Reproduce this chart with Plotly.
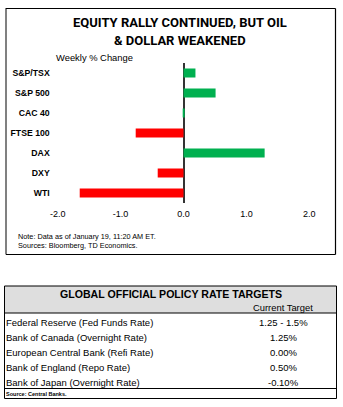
import plotly.graph_objects as go

W, H = 343, 407

categories = ["S&P/TSX", "S&P 500", "CAC 40", "FTSE 100", "DAX", "DXY", "WTI"]
weekly_change = [0.19, 0.51, 0.01, -0.76, 1.29, -0.41, -1.65]
x_tick_vals = [-2, -1, 0, 1, 2]
x_tick_text = ["-2.0", "-1.0", "0.0", "1.0", "2.0"]

table_banks = [
    "Federal Reserve (Fed Funds Rate)",
    "Bank of Canada (Overnight Rate)",
    "European Central Bank (Refi Rate)",
    "Bank of England (Repo Rate)",
    "Bank of Japan (Overnight Rate)",
]
table_targets = ["1.25 - 1.5%", "1.25%", "0.00%", "0.50%", "-0.10%"]

GREEN = "#00B050"
RED = "#FF0000"
FONT = "Liberation Sans, Arial, sans-serif"
TITLE_FONT = "Roboto, Liberation Sans, sans-serif"


def px(x):
    return x / W


def py(y):
    return 1 - y / H


colors = [GREEN if v >= 0 else RED for v in weekly_change]

fig = go.Figure(
    go.Bar(
        x=weekly_change,
        y=categories,
        orientation="h",
        marker=dict(color=colors, line=dict(width=0)),
        width=0.45,
        hoverinfo="skip",
    )
)

fig.update_layout(
    width=W,
    height=H,
    autosize=False,
    margin=dict(l=0, r=0, t=0, b=0, pad=0),
    paper_bgcolor="white",
    plot_bgcolor="white",
    showlegend=False,
    xaxis=dict(
        domain=[px(57.7), px(309.3)],
        range=[-2, 2],
        tickvals=x_tick_vals,
        ticktext=x_tick_text,
        showgrid=False,
        zeroline=True,
        zerolinecolor="#333333",
        zerolinewidth=1.5,
        showline=False,
        ticks="",
        ticklabelstandoff=4,
        tickfont=dict(family=FONT, size=9, color="black"),
        fixedrange=True,
        automargin=False,
    ),
    yaxis=dict(
        domain=[py(203), py(63)],
        range=[6.5, -0.5],
        categoryorder="array",
        categoryarray=categories,
        showgrid=False,
        zeroline=False,
        showline=False,
        ticks="",
        ticklabelstandoff=7,
        tickfont=dict(family=FONT, size=8.7, color="black", weight="bold"),
        fixedrange=True,
        automargin=False,
    ),
)

shapes = []
# chart box
shapes.append(dict(type="line", xref="paper", yref="paper", x0=px(6), x1=px(6), y0=py(8), y1=py(254.5),
                   line=dict(color="#808080", width=2)))
shapes.append(dict(type="line", xref="paper", yref="paper", x0=px(6), x1=px(335.5), y0=py(8.5), y1=py(8.5),
                   line=dict(color="black", width=1.2)))
shapes.append(dict(type="line", xref="paper", yref="paper", x0=px(335.5), x1=px(335.5), y0=py(8.5), y1=py(254.5),
                   line=dict(color="black", width=1.2)))
shapes.append(dict(type="line", xref="paper", yref="paper", x0=px(6), x1=px(335.5), y0=py(254.5), y1=py(254.5),
                   line=dict(color="black", width=1.2)))
# table header band
shapes.append(dict(type="rect", xref="paper", yref="paper", x0=px(4.5), x1=px(336.5), y0=py(313), y1=py(286),
                   fillcolor="#DEDEDE", line=dict(width=0), layer="below"))
# table borders
tbl_l, tbl_r, tbl_t, tbl_b = 4.5, 336.5, 286, 398.5
for (x0, y0, x1, y1) in [
    (tbl_l, tbl_t, tbl_r, tbl_t),
    (tbl_l, tbl_b, tbl_r, tbl_b),
    (tbl_l, tbl_t, tbl_l, tbl_b),
    (tbl_r, tbl_t, tbl_r, tbl_b),
    (tbl_l, 313, tbl_r, 313),
    (tbl_l, 388.5, tbl_r, 388.5),
]:
    shapes.append(dict(type="line", xref="paper", yref="paper", x0=px(x0), x1=px(x1), y0=py(y0), y1=py(y1),
                       line=dict(color="black", width=1)))
fig.update_layout(shapes=shapes)

ann = []


def text(x, y, s, size, bold=False, xanchor="left", family=FONT, color="black"):
    ann.append(dict(x=px(x), y=py(y), xref="paper", yref="paper", text=s, showarrow=False,
                    xanchor=xanchor, yanchor="middle", borderpad=0, borderwidth=0,
                    font=dict(family=family, size=size, color=color, weight="bold" if bold else "normal")))


text(180, 22.7, "EQUITY RALLY CONTINUED, BUT OIL", 13, True, "center", TITLE_FONT)
text(180, 40.7, "&amp; DOLLAR WEAKENED", 13, True, "center", TITLE_FONT)
text(56, 58, "Weekly % Change", 9.4)
text(17.5, 236, "Note: Data as of January 19, 11:20 AM ET.", 7.3)
text(17.5, 245, "Sources: Bloomberg, TD Economics.", 7.3)

text(171, 294, "GLOBAL OFFICIAL POLICY RATE TARGETS", 10.6, True, "center")
text(283, 307, "Current Target", 9.4, False, "center")
row_y = [322.7, 337.5, 352.3, 367.2, 382]
for yy, bank, tgt in zip(row_y, table_banks, table_targets):
    text(6, yy, bank, 9.5, False, "left")
    text(283, yy, tgt, 9.5, False, "center")
text(6, 393.5, "Source: Central Banks.", 5.5, True)

fig.update_layout(annotations=ann)

fig.write_html("out.html")
